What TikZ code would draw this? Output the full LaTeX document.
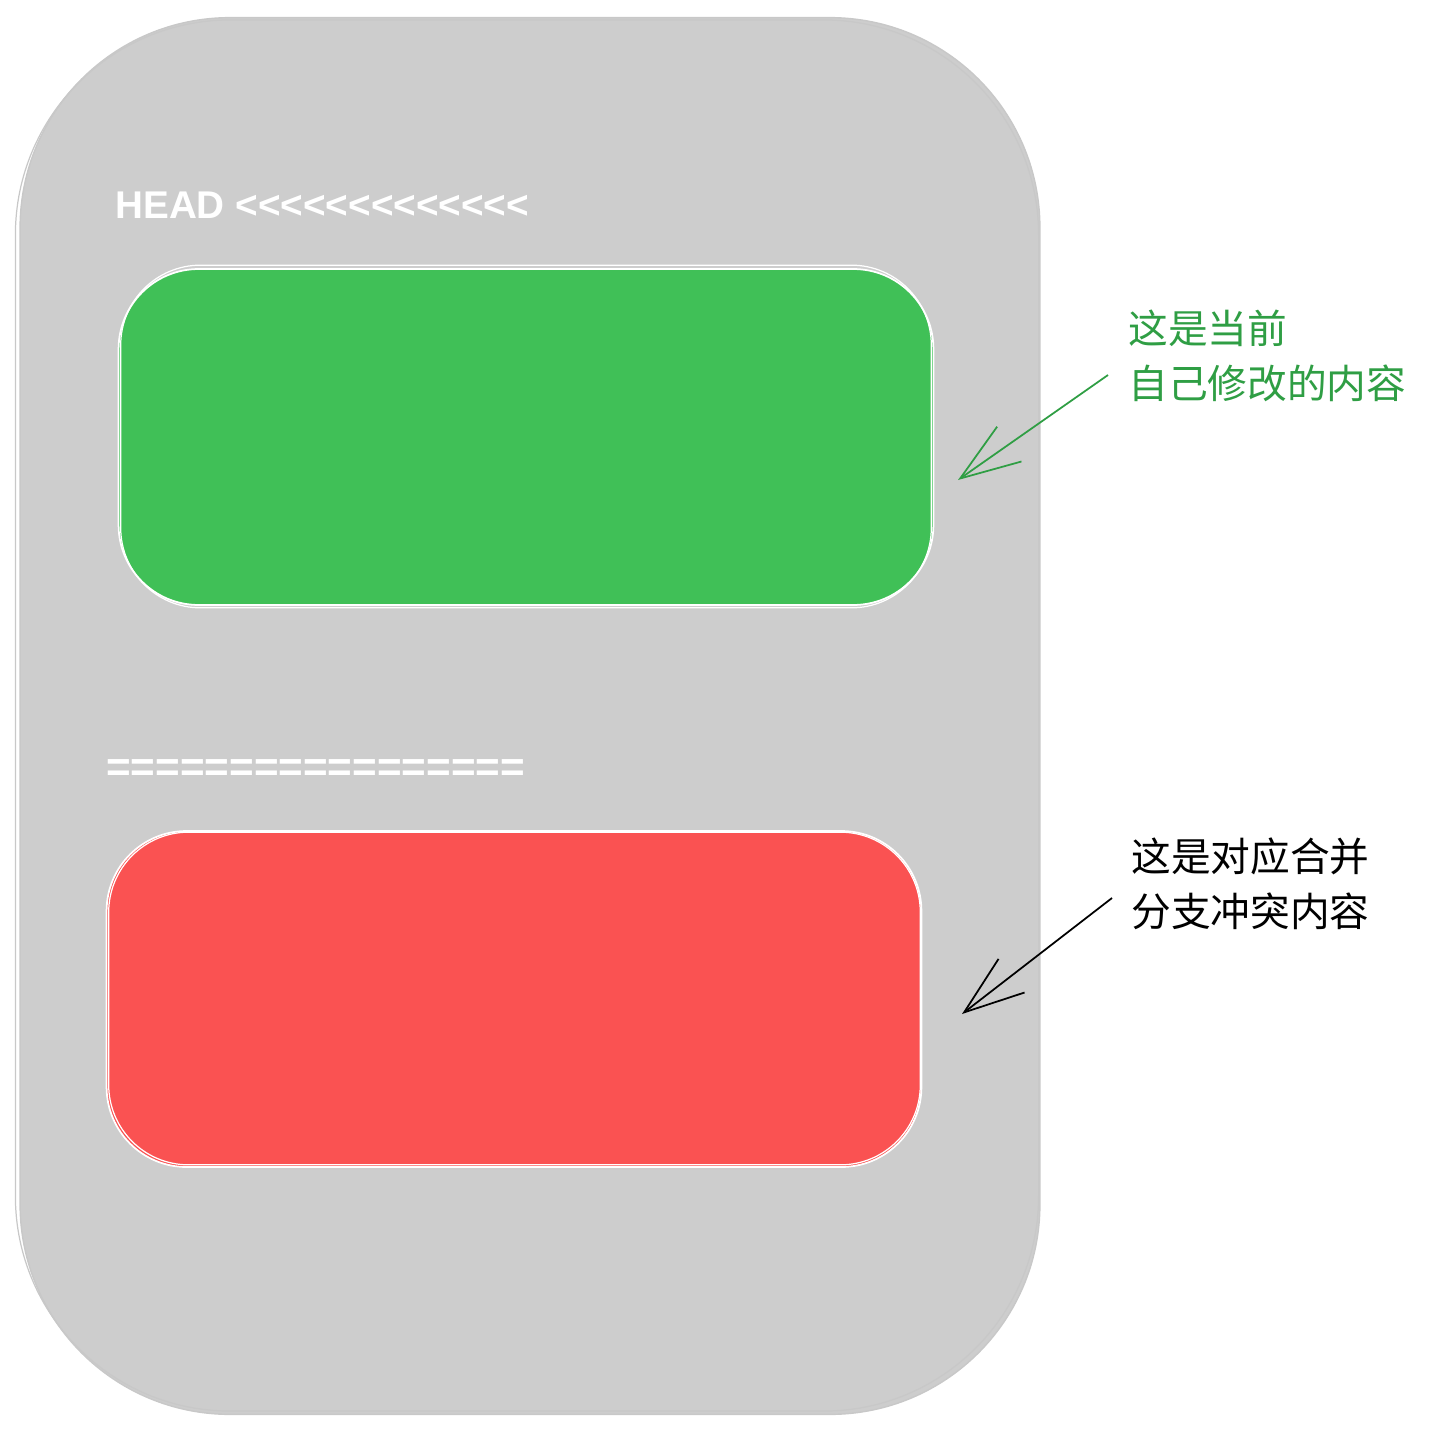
\documentclass[tikz,border=0pt]{standalone}
\usepackage{fontspec}
\usepackage{xcolor}
\usetikzlibrary{arrows.meta, positioning, calc}
\newfontfamily\markfont{Liberation Sans}
\newfontfamily\cjk{Noto Sans CJK SC}
\definecolor{panelgray}{RGB}{205, 205, 205}
\definecolor{panelline}{RGB}{200, 200, 200}
\definecolor{oursgreen}{RGB}{64, 192, 87}
\definecolor{theirsred}{RGB}{250, 82, 82}
\definecolor{notegreen}{RGB}{47, 158, 68}

\begin{document}
\begin{tikzpicture}[
    x=0.02cm, y=-0.02cm,
    panel/.style={rectangle, rounded corners=4.2cm, fill=panelgray, draw=panelline, line width=0.8pt, minimum width=20.4cm, minimum height=27.94cm, inner sep=0},
    block/.style={rectangle, rounded corners=1.6cm, draw=white, line width=1pt, minimum width=16.3cm, minimum height=6.72cm, inner sep=0},
    sketch/.style={line width=0.7pt, rounded corners=#1},
    marker/.style={inner sep=0, text=white, font=\markfont\fontsize{22}{26}\selectfont\bfseries},
    note/.style={inner sep=0, align=left, font=\cjk\fontsize{22.6}{31.3}\selectfont},
    arrow/.style={line width=1pt, -{Straight Barb[length=1.2cm, width=0.85cm]}}
]
\useasboundingbox (0,0) rectangle (1430,1433);

% Outer block
\node (panel) [panel] at (530,716) {};
\draw [sketch=4.3cm, panelline] ($(panel.north west)+(-4,3)$) rectangle ($(panel.south east)+(-2,-4)$);

% Conflict markers
\node (head) [marker, anchor=base west] at (115,218) {HEAD <<<<<<<<<<<<<};
\node (sep) [marker, anchor=base west, font=\markfont\fontsize{24}{28}\selectfont\bfseries] at (106,781) {=================};

% Conflict blocks
\node (ours) [block, fill=oursgreen] at (526,437) {};
\draw [sketch=1.6cm, white] ($(ours.north west)+(3,-3)$) rectangle ($(ours.south east)+(-3,2)$);
\node (theirs) [block, fill=theirsred] at (514,999) {};
\draw [sketch=1.6cm, white] ($(theirs.north west)+(3,2)$) rectangle ($(theirs.south east)+(-2,-3)$);

% Notes
\node (oursnote) [note, text=notegreen, anchor=north west] at (1128,310) {这是当前\\自己修改的内容};
\node (theirsnote) [note, anchor=north west] at (1131,837) {这是对应合并\\分支冲突内容};

% Arrows
\coordinate (ourstail) at (1108,375);
\coordinate (ourstip) at (958,480);
\coordinate (theirstail) at (1112,898);
\coordinate (theirstip) at (962,1014);
\draw [arrow, notegreen] (ourstail) -- (ourstip);
\draw [arrow] (theirstail) -- (theirstip);

\end{tikzpicture}
\end{document}
